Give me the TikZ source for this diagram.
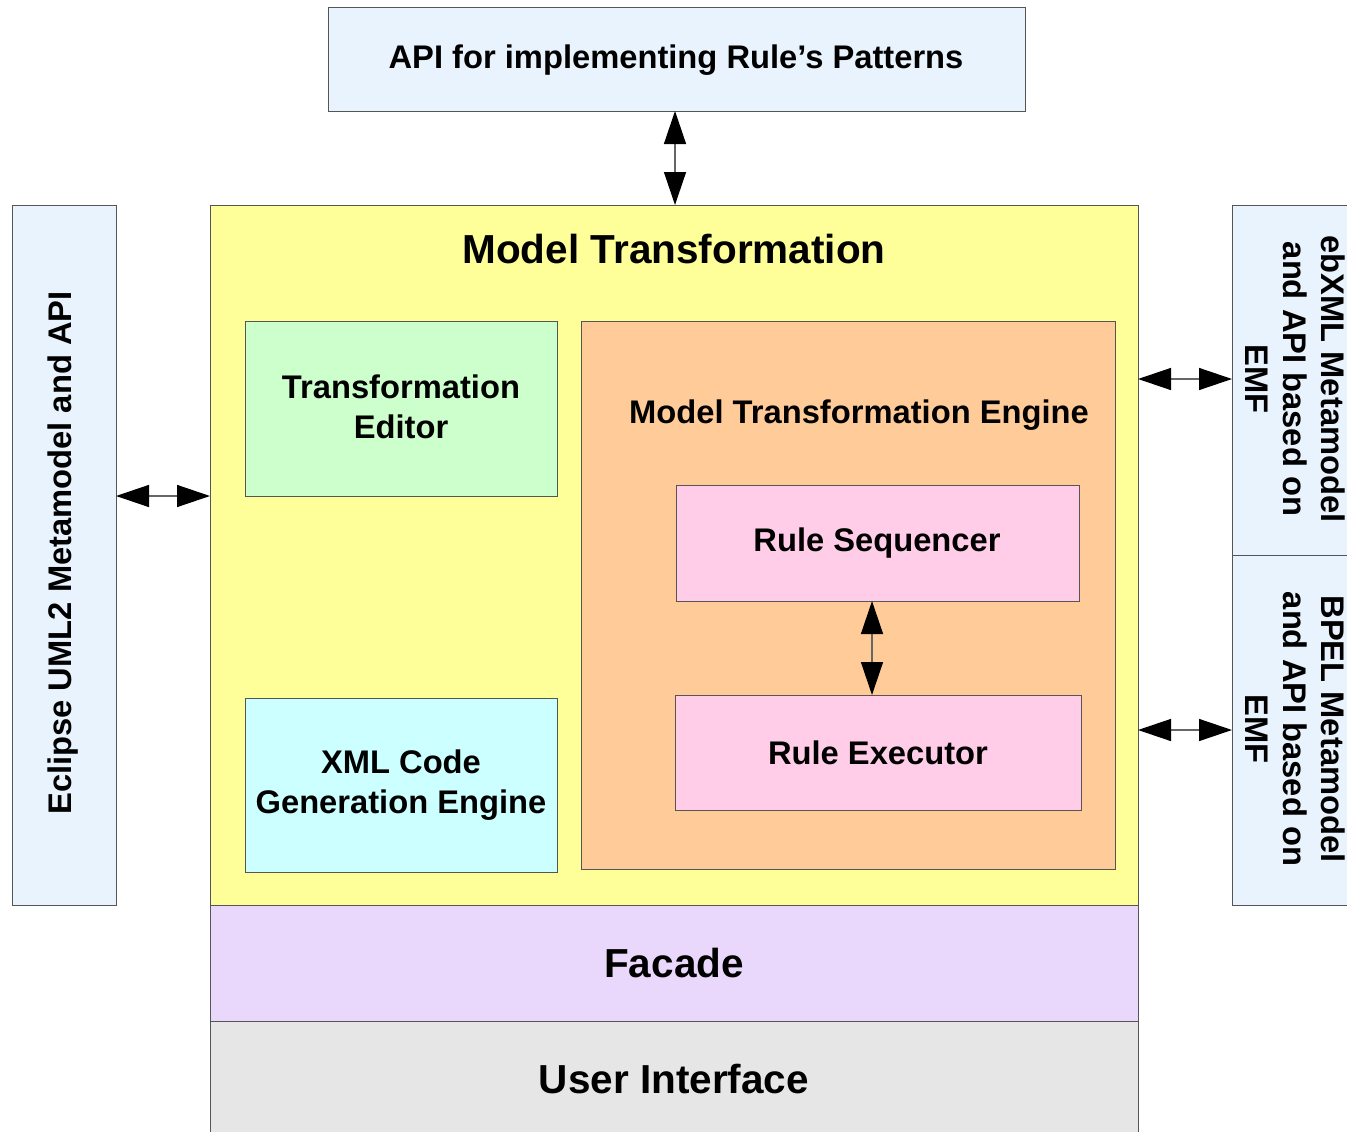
\documentclass[tikz,border=0pt]{standalone}
\usepackage{fontspec}
\setmainfont{Liberation Sans}
\usetikzlibrary{arrows.meta,calc}
\definecolor{lblue}{HTML}{E9F3FE}
\definecolor{myyellow}{HTML}{FFFF99}
\definecolor{mylav}{HTML}{EAD8FC}
\definecolor{mygray}{HTML}{E6E6E6}
\definecolor{mygreen}{HTML}{CCFFCC}
\definecolor{mycyan}{HTML}{CCFFFF}
\definecolor{myorange}{HTML}{FFCC99}
\definecolor{mypink}{HTML}{FFCDE8}
\definecolor{edge}{HTML}{555555}
\tikzset{
  box/.style={draw=edge, line width=1pt, inner sep=0pt, outer sep=0pt, anchor=north west},
  txt/.style={font=\fontsize{32.7}{40}\selectfont\bfseries, align=center, inner sep=0pt},
  bigtxt/.style={font=\fontsize{40.5}{48}\selectfont\bfseries, align=center, inner sep=0pt},
  biarrow/.style={draw=black!60, line width=1.4pt,
    {Triangle[length=33pt,width=22pt,color=black]}-{Triangle[length=33pt,width=22pt,color=black]}}
}
\begin{document}
\begin{tikzpicture}[x=1pt,y=-1pt]
\useasboundingbox (0,0) rectangle (1347,1132);
\clip (0,0) rectangle (1347,1132);
% boxes
\node[box, fill=lblue, minimum width=697pt, minimum height=103pt] (api) at (328,8) {};
\node[box, fill=myyellow, minimum width=928pt, minimum height=700pt] (mt) at (210,205) {};
\node[box, fill=mylav, minimum width=928pt, minimum height=116pt] (facade) at (210,905) {};
\node[box, fill=mygray, minimum width=928pt, minimum height=125pt] (ui) at (210,1021) {};
\node[box, fill=lblue, minimum width=104pt, minimum height=700pt] (left) at (12,205) {};
\node[box, fill=lblue, minimum width=125pt, minimum height=350pt] (rtop) at (1232,205) {};
\node[box, fill=lblue, minimum width=125pt, minimum height=350pt] (rbot) at (1232,555) {};
\node[box, fill=mygreen, minimum width=312pt, minimum height=175pt] (te) at (245,321) {};
\node[box, fill=mycyan, minimum width=312pt, minimum height=174pt] (xml) at (245,698) {};
\node[box, fill=myorange, minimum width=534pt, minimum height=548pt] (mte) at (581,321) {};
\node[box, fill=mypink, minimum width=403pt, minimum height=116pt] (rs) at (676,485) {};
\node[box, fill=mypink, minimum width=406pt, minimum height=115pt] (re) at (675,695) {};
% texts
\node[txt] (apit) at (676,60) {API for implementing Rule’s Patterns};
\node[bigtxt] (mtt) at (674,249) {Model Transformation};
\node[bigtxt] (fat) at (674,963) {Facade};
\node[bigtxt] (uit) at (674,1079) {User Interface};
\node[txt] (tet) at (401,407) {Transformation\\Editor};
\node[txt] (xmlt) at (401,785) {XML Code\\Generation Engine};
\node[txt] (mtet) at (859,415) {Model Transformation Engine};
\node[txt] (rst) at (877,543) {Rule Sequencer};
\node[txt] (ret) at (878,753) {Rule Executor};
\node[txt, rotate=90] (leftt) at (63,553) {Eclipse UML2 Metamodel and API};
\node[txt, rotate=-90, font=\fontsize{32.7}{38}\selectfont\bfseries] (rtopt) at (1295,379) {ebXML Metamodel\\and API based on\\EMF};
\node[txt, rotate=-90, font=\fontsize{32.7}{38}\selectfont\bfseries] (rbott) at (1295,729) {BPEL Metamodel\\and API based on\\EMF};
% connectors
\coordinate (yl) at (0,496);
\coordinate (yr1) at (0,379);
\coordinate (yr2) at (0,730);
\coordinate (xa) at (675,0);
\coordinate (xb) at (872,0);
\draw[biarrow] (xa |- api.south) -- (xa |- mt.north);
\draw[biarrow] (left.east |- yl) -- (mt.west |- yl);
\draw[biarrow] (mt.east |- yr1) -- (rtop.west |- yr1);
\draw[biarrow] (mt.east |- yr2) -- (rbot.west |- yr2);
\draw[biarrow] (xb |- rs.south) -- (xb |- re.north);
\end{tikzpicture}
\end{document}
